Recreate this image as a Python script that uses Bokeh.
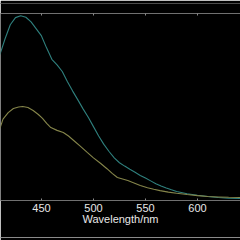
from bokeh.plotting import figure
from bokeh.models import Range1d, LinearAxis, FixedTicker
from bokeh.embed import file_html
from bokeh.resources import INLINE

# Emission spectra (wavelength in nm, intensity in a.u.)
wl_a = [410, 415, 420, 425, 430, 435, 440, 445, 450, 455, 460, 465, 470, 475,
        480, 485, 490, 495, 500, 505, 510, 515, 520, 525, 530, 535, 540, 545,
        550, 555, 560, 565, 570, 575, 580, 590, 600, 610, 620, 630, 641]
int_a = [780, 865, 940, 978, 988, 980, 955, 918, 880, 815, 755, 725, 690, 635,
         585, 538, 490, 445, 395, 345, 300, 262, 228, 202, 184, 167, 151, 134,
         120, 105, 90, 78, 67, 57, 48, 36, 28, 21, 16, 12, 11]

wl_b = [410, 413, 418, 423, 428, 432, 437, 442, 447, 451, 455, 459, 465, 471,
        476, 481, 487, 494, 500, 507, 513, 518, 523, 528, 533, 539, 545, 552,
        558, 564, 572, 580, 590, 600, 610, 620, 630, 641]
int_b = [385, 435, 470, 492, 500, 503, 497, 481, 460, 439, 412, 390, 375, 364,
         345, 321, 292, 257, 228, 198, 170, 145, 123, 115, 107, 94, 80, 68,
         60, 53, 45, 39, 32, 26, 21, 19, 17, 16]

x_ticks = [450, 500, 550, 600, 650]
blank = {t: "" for t in x_ticks}

p = figure(width=240, height=240, output_backend="svg", toolbar_location=None,
           x_range=Range1d(410.6, 641.4), y_range=Range1d(0, 1000),
           x_axis_location=None, y_axis_location=None,
           min_border_left=0, min_border_right=0,
           min_border_top=13, min_border_bottom=40)
p.background_fill_color = "black"
p.border_fill_color = "black"
p.outline_line_color = None
p.xgrid.visible = False
p.ygrid.visible = False

axis_grey = "#707070"


def plain_axis(line_color, tick_color, tick_in, tick_out):
    """Axis without tick labels: used for the frame edge, spacers and rules."""
    return LinearAxis(ticker=FixedTicker(ticks=x_ticks), major_label_overrides=blank,
                      major_label_text_font_size="1px",
                      axis_line_color=line_color, major_tick_line_color=tick_color,
                      major_tick_in=tick_in, major_tick_out=tick_out,
                      minor_tick_line_color=None, major_label_standoff=0)


# upper edge of the plotting area with small inward ticks, then a spacer and a thin rule
p.add_layout(plain_axis(axis_grey, "#8a8a8a", 2, 0), "above")
p.add_layout(plain_axis(None, None, 0, 10), "above")
p.add_layout(plain_axis("#4a4a4a", None, 0, 0), "above")

bottom = LinearAxis(ticker=FixedTicker(ticks=x_ticks),
                    axis_line_color=axis_grey, major_tick_line_color="#8a8a8a",
                    major_tick_in=2, major_tick_out=0, minor_tick_line_color=None,
                    major_label_text_color="#e8e8e8",
                    major_label_text_font="Liberation Sans",
                    major_label_text_font_size="11px",
                    major_label_standoff=3,
                    axis_label="Wavelength/nm",
                    axis_label_text_color="#e8e8e8",
                    axis_label_text_font="Liberation Sans",
                    axis_label_text_font_size="11px",
                    axis_label_text_font_style="normal",
                    axis_label_standoff=-2)
p.add_layout(bottom, "below")
# spacer and thin rule at the bottom of the panel
p.add_layout(plain_axis(None, None, 0, 10), "below")
p.add_layout(plain_axis("#8a8a8a", None, 0, 0), "below")

p.line(wl_a, int_a, line_color="#2f807e", line_width=1.1)
p.line(wl_b, int_b, line_color="#85854a", line_width=1.1)

open("out.html", "w").write(file_html(p, INLINE))
